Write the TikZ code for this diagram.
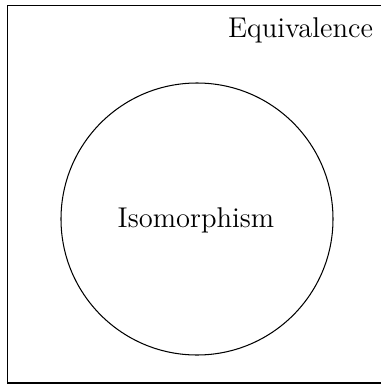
\documentclass[tikz,border=0pt]{standalone}
\usepackage{tikz}
\usetikzlibrary{positioning}

\begin{document}
\begin{tikzpicture}[x=0.385pt, y=-0.385pt, font=\fontsize{11}{13}\selectfont]
        \useasboundingbox (0,0) rectangle (381,385);
        \draw (7.5,5.5) rectangle (390,383);
        \node[draw, circle, minimum size=272*0.385pt, inner sep=0pt] (iso) at (197,219) {};
        \node[anchor=base] (isolabel) at (196,227) {Isomorphism};
        \node[anchor=base, inner sep=0pt] (equiv) at (300.5,37) {Equivalence};
    \end{tikzpicture}
\end{document}
